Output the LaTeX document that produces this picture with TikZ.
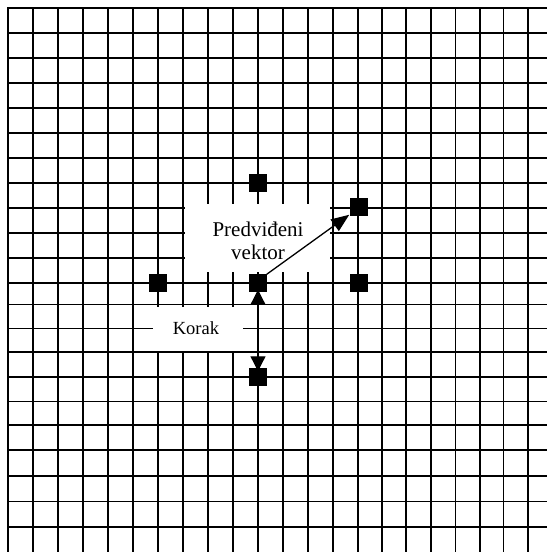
\documentclass[tikz,border=0pt]{standalone}
\usepackage{fontspec}
\setmainfont{Liberation Serif}
\usetikzlibrary{arrows.meta}
\tikzset{
  gridline/.style={black, line width=1.2pt},
  borderline/.style={black, line width=2.6pt},
  sq/.style={fill=black, draw=none, minimum size=17.5pt, inner sep=0pt, outer sep=0pt},
  lbl/.style={inner sep=0pt, align=center, font=\fontsize{21}{23.5}\selectfont},
  klbl/.style={inner sep=0pt, font=\fontsize{18.5}{21}\selectfont},
  vec/.style={black, line width=1.3pt, -{Triangle[length=18pt,width=14pt]}},
  steparrow/.style={black, line width=1.3pt, {Triangle[length=15pt,width=15pt]}-{Triangle[length=15pt,width=15pt]}}
}
\begin{document}
\begin{tikzpicture}[x=1pt,y=-1pt]
\useasboundingbox (0,0) rectangle (547,552);
\fill[white] (0,0) rectangle (547,552);
% grid
\foreach \gx in {33,58,83,108,133,158,183,208,233,258,283,308,333,358,382,406,431,455.5,480,503.5,528}
  \draw[gridline] (\gx,8) -- (\gx,552);
\foreach \gy in {33,58,83,108,133,158,183,208,233,258,283,304.5,328.5,352,377,401.5,425,450,476,501.5,527}
  \draw[gridline] (8,\gy) -- (547,\gy);
% masks behind labels
\fill[white] (185,204) rectangle (330,272);
\fill[white] (153,306.5) rectangle (243,351);
% border
\draw[borderline] (8,552) -- (8,8) -- (547,8);
% squares
\node[sq] (c) at (258,283) {};
\node[sq] (t) at (258,183) {};
\node[sq] (b) at (258,377) {};
\node[sq] (l) at (158,283) {};
\node[sq] (r) at (359,283) {};
\node[sq] (ur) at (359,207) {};
% labels
\node[lbl] (pv) at (258,241) {Predviđeni\\vektor};
\node[klbl] (k) at (196,328) {Korak};
% arrows
\draw[vec] (c.north east) -- ([xshift=-1pt,yshift=1pt]ur.south west);
\draw[steparrow] ([yshift=2pt]c.south) -- ([yshift=-3pt]b.north);
\end{tikzpicture}
\end{document}
